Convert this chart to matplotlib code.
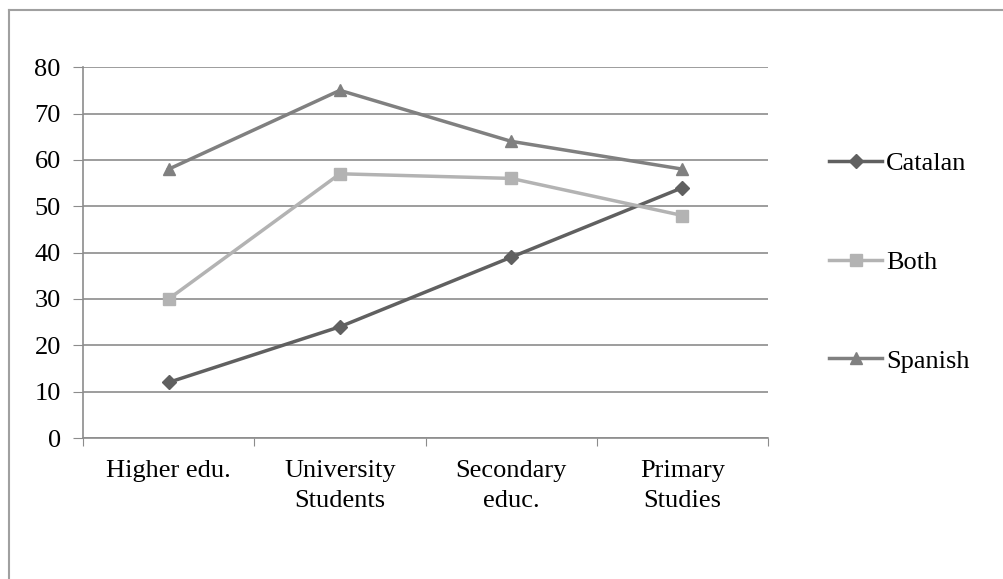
import matplotlib.pyplot as plt
from matplotlib.lines import Line2D

categories = ["Higher edu.", "University\nStudents", "Secondary\neduc.", "Primary\nStudies"]
catalan = [12, 24, 39, 54]
both = [30, 57, 56, 48]
spanish = [58, 75, 64, 58]

plt.rcParams['font.family'] = ['Liberation Serif', 'DejaVu Serif']
plt.rcParams['font.size'] = 19

fig = plt.figure(figsize=(10.04, 5.79), dpi=100)
ax = fig.add_axes([0.0827, 0.2435, 0.6823, 0.6405])

x = range(len(categories))
ax.plot(x, catalan, color="#606060", lw=2.5, marker="D", ms=7, label="Catalan")
ax.plot(x, both, color="#b3b3b3", lw=2.5, marker="s", ms=8, label="Both")
ax.plot(x, spanish, color="#808080", lw=2.5, marker="^", ms=8, label="Spanish")

ax.set_xlim(-0.5, 3.5)
ax.set_ylim(0, 80)
ax.set_yticks(range(0, 81, 10))
ax.set_xticks([i - 0.5 for i in range(5)], minor=False)
ax.set_xticklabels([])
ax.set_xticks(list(x), minor=True)
ax.set_xticklabels(categories, minor=True, linespacing=1.45)
ax.tick_params(axis='x', which='minor', length=0, pad=16)
ax.tick_params(axis='x', which='major', length=6, color="#8c8c8c")
ax.tick_params(axis='y', length=7, color="#8c8c8c", pad=9)
ax.grid(axis='y', color="#8c8c8c", lw=1.2)
ax.set_axisbelow(True)
for side in ['top', 'right']:
    ax.spines[side].set_visible(False)
for side in ['left', 'bottom']:
    ax.spines[side].set_color("#8c8c8c")
    ax.spines[side].set_linewidth(1.2)

fig.legend(loc='center left', bbox_to_anchor=(0.813, 0.547), frameon=False,
           handlelength=2.0, handletextpad=0.15, labelspacing=2.85, borderpad=0)

# outer frame (top and left edges only)
fig.add_artist(Line2D([0.0085, 0.0085], [0, 0.983], transform=fig.transFigure,
                      color="#a0a0a0", lw=1.5))
fig.add_artist(Line2D([0.0085, 1.0], [0.983, 0.983], transform=fig.transFigure,
                      color="#a0a0a0", lw=1.5))

fig.savefig("out.png", dpi=100)
